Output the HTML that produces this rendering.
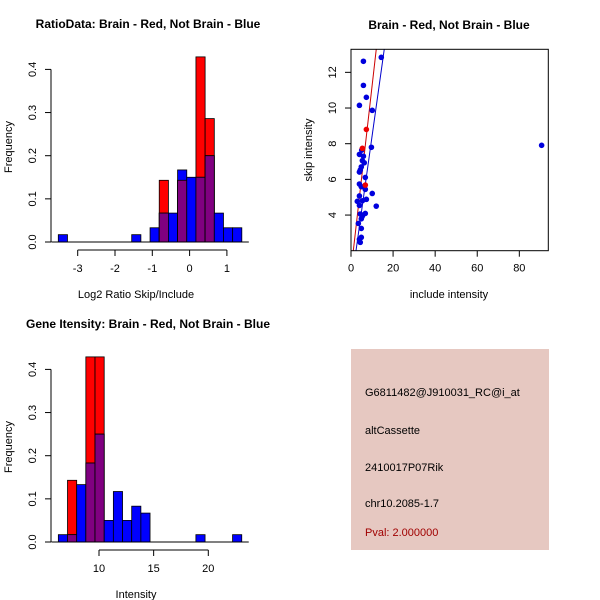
<!DOCTYPE html>
<html><head><meta charset="utf-8"><style>
html,body{margin:0;padding:0;background:#fff;}
svg{display:block;font-family:"Liberation Sans",sans-serif;}
</style></head><body>
<svg id="c" width="600" height="600" viewBox="0 0 600 600">
<rect width="600" height="600" fill="#fff"/>
</svg>
<script>
// ---- Panel 1 data: log2 ratio histogram ----
const ratioBinStart = -3.52;
const ratioBinWidth = 0.246;
const ratioBlue = [0.017,0,0,0,0,0,0,0,0.017,0,0.033,0.067,0.067,0.167,0.15,0.15,0.2,0.067,0.033,0.033];
const ratioRed  = [0,0,0,0,0,0,0,0,0,0,0,0.143,0,0.143,0,0.429,0.286,0,0,0];
const ratioXTicks = [-3,-2,-1,0,1];
const freqTicks = [0,0.1,0.2,0.3,0.4];
// ---- Panel 3 data: intensity histogram ----
const intBinStart = 6.28;
const intBinWidth = 0.839;
const intBlue = [0.017,0.017,0.133,0.183,0.25,0.05,0.117,0.05,0.083,0.067,0,0,0,0,0,0.017,0,0,0,0.017];
const intRed  = [0,0.143,0,0.429,0.429,0,0,0,0,0,0,0,0,0,0,0,0,0,0,0];
const intXTicks = [10,15,20];
// ---- Panel 2 data: scatter ----
const blueX = [5.9,14.4,5.9,7.3,4.0,10.1,9.7,90.6,5.1,4.0,5.9,5.4,6.3,4.9,4.4,4.0,6.8,4.0,4.9,6.8,10.1,4.0,7.3,5.4,3.0,4.0,12.0,6.8,4.4,5.4,4.9,3.5,4.9,4.9,4.0,4.4];
const blueY = [12.62,12.84,11.27,10.6,10.15,9.87,7.8,7.91,7.64,7.4,7.3,7.05,6.93,6.7,6.52,6.41,6.11,5.74,5.59,5.44,5.21,5.07,4.88,4.8,4.77,4.54,4.5,4.09,4.06,3.94,3.79,3.53,3.25,2.75,2.64,2.47];
const redX = [7.3,5.4,6.8];
const redY = [8.8,7.74,5.68];
const redLine = [1.1,2.0,12.0,13.29];
const blueLine = [2.38,2.0,15.8,13.29];
const scXTicks = [0,20,40,60,80];
const scYTicks = [4,6,8,10,12];

const NS="http://www.w3.org/2000/svg";
const svg=document.getElementById('c');
function mk(tag,attrs,parent){const e=document.createElementNS(NS,tag);for(const k in attrs)e.setAttribute(k,attrs[k]);(parent||svg).appendChild(e);return e;}
function txt(s,attrs,parent){const e=mk('text',attrs,parent);e.textContent=s;return e;}

function histPanel(name,oy,binStart,binW,blue,red,xTicks,x0px,x0v,pxPerUnit,title,xlab){
  const g=mk('g',{});
  
  
  const X=v=>x0px+(v-x0v)*pxPerUnit;
  const Y=v=>oy-v*431.5;
  for(let i=0;i<blue.length;i++){
    const l=X(binStart+i*binW), r=X(binStart+(i+1)*binW);
    const b=blue[i], rd=red[i];
    if(rd>0){const e=mk('rect',{x:l,y:Y(rd),width:r-l,height:Y(0)-Y(rd),fill:'#ff0000',stroke:'#000','stroke-width':0.8},g);
      }
    if(b>0){const e=mk('rect',{x:l,y:Y(b),width:r-l,height:Y(0)-Y(b),fill:'#0000ff',stroke:'#000','stroke-width':0.8},g);
      }
    const m=Math.min(b,rd);
    if(m>0){const e=mk('rect',{x:l,y:Y(m),width:r-l,height:Y(0)-Y(m),fill:'#800080',stroke:'#000','stroke-width':0.8},g);
      }
  }
  mk('line',{x1:X(binStart)-7,x2:X(binStart+blue.length*binW)+7,y1:Y(0),y2:Y(0),stroke:'#000'},g);
  mk('line',{x1:51,x2:51,y1:Y(0),y2:Y(0.4),stroke:'#000'},g);
  freqTicks.forEach(t=>{mk('line',{x1:45,x2:51,y1:Y(t),y2:Y(t),stroke:'#000'},g);
    const e=txt(t.toFixed(1),{x:36,y:Y(t),'font-size':11,'text-anchor':'middle',transform:`rotate(-90 36 ${Y(t)})`},g);
    });
  const ay=oy+8;
  mk('line',{x1:X(xTicks[0]),x2:X(xTicks[xTicks.length-1]),y1:ay,y2:ay,stroke:'#000'},g);
  xTicks.forEach(t=>{mk('line',{x1:X(t),x2:X(t),y1:ay,y2:ay+6,stroke:'#000'},g);
    const e=txt(String(t),{x:X(t),y:ay+22,'font-size':11,'text-anchor':'middle'},g);
    });
  let e=txt(title,{x:148,y:oy-214,'font-size':12,'font-weight':'bold','text-anchor':'middle'},g);
  
  e=txt(xlab,{x:136,y:oy+56,'font-size':11,'text-anchor':'middle'},g);
  
  e=txt('Frequency',{x:12,y:oy-95,'font-size':11,'text-anchor':'middle',transform:`rotate(-90 12 ${oy-95})`},g);
  
}
histPanel('ratio-histogram',242,ratioBinStart,ratioBinWidth,ratioBlue,ratioRed,ratioXTicks,77.7,-3,37.3,'RatioData: Brain - Red, Not Brain - Blue','Log2 Ratio Skip/Include');
histPanel('intensity-histogram',542,intBinStart,intBinWidth,intBlue,intRed,intXTicks,99,10,10.93,'Gene Itensity: Brain - Red, Not Brain - Blue','Intensity');

(function(){
  const g=mk('g',{});
  
  
  const L=351,R=548.3,T=49.3,B=250.7;
  const X=v=>351+v*2.104;
  const Y=v=>143.7-(v-8)*17.84;
  mk('clipPath',{id:'clipS'},g).appendChild(document.createElementNS(NS,'rect'));
  const cr=g.querySelector('#clipS rect');cr.setAttribute('x',L);cr.setAttribute('y',T);cr.setAttribute('width',R-L);cr.setAttribute('height',B-T);
  const cg=mk('g',{'clip-path':'url(#clipS)'},g);
  let e=mk('line',{x1:X(redLine[0]),y1:Y(redLine[1]),x2:X(redLine[2]),y2:Y(redLine[3]),stroke:'#cc0000','stroke-width':1},cg);
  
  e=mk('line',{x1:X(blueLine[0]),y1:Y(blueLine[1]),x2:X(blueLine[2]),y2:Y(blueLine[3]),stroke:'#0000cc','stroke-width':1},cg);
  
  for(let i=0;i<blueX.length;i++){const p=mk('circle',{cx:X(blueX[i]),cy:Y(blueY[i]),r:2.8,fill:'#0000dd'},cg);
    }
  for(let i=0;i<redX.length;i++){const p=mk('circle',{cx:X(redX[i]),cy:Y(redY[i]),r:2.8,fill:'#ee0000'},cg);
    }
  mk('rect',{x:L,y:T,width:R-L,height:B-T,fill:'none',stroke:'#000'},g);
  scXTicks.forEach(t=>{mk('line',{x1:X(t),x2:X(t),y1:B,y2:B+6,stroke:'#000'},g);
    const e=txt(String(t),{x:X(t),y:B+21,'font-size':11,'text-anchor':'middle'},g);
    });
  scYTicks.forEach(t=>{mk('line',{x1:L-6,x2:L,y1:Y(t),y2:Y(t),stroke:'#000'},g);
    const e=txt(String(t),{x:336,y:Y(t),'font-size':11,'text-anchor':'middle',transform:`rotate(-90 336 ${Y(t)})`},g);
    });
  e=txt('Brain - Red, Not Brain - Blue',{x:449,y:29,'font-size':12,'font-weight':'bold','text-anchor':'middle'},g);
  
  e=txt('include intensity',{x:449,y:298,'font-size':11,'text-anchor':'middle'},g);
  
  e=txt('skip intensity',{x:312,y:150,'font-size':11,'text-anchor':'middle',transform:'rotate(-90 312 150)'},g);
  
})();

(function(){
  const g=mk('g',{});
  
  
  mk('rect',{x:351,y:349,width:198,height:201,fill:'#e6c8c1'},g);
  const lines=[['G6811482@J910031_RC@i_at',396,'#000','probe-id'],['altCassette',434,'#000','event-type'],['2410017P07Rik',471,'#000','gene-name'],['chr10.2085-1.7',507,'#000','location'],['Pval: 2.000000',536,'#a00000','p-value']];
  lines.forEach(l=>{const e=txt(l[0],{x:365,y:l[1],'font-size':11,fill:l[2]},g);
    });
})();
</script>
</body></html>
